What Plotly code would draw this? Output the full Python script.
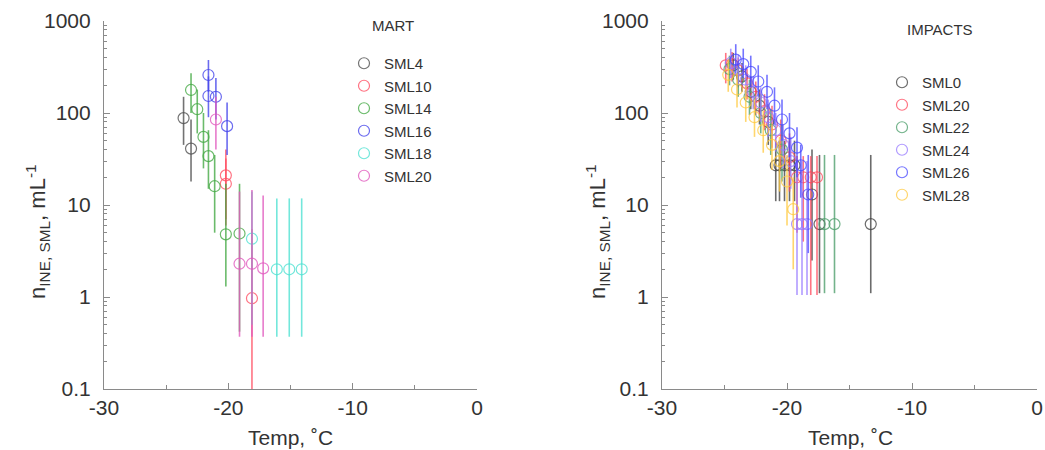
import plotly.graph_objects as go

# ---------------- MART (left panel) ----------------
mart_names = ["SML4", "SML10", "SML14", "SML16", "SML18", "SML20"]
mart_colors = ["rgba(80,80,80,0.8)", "rgba(255,80,100,0.8)", "rgba(70,170,70,0.8)",
               "rgba(70,70,235,0.8)", "rgba(80,225,210,0.8)", "rgba(225,90,190,0.8)"]

sml4_t = [-23.6, -23.0]
sml4_v = [88, 41]
sml4_up = [150, 85]
sml4_lo = [45, 18]

sml10_t = [-20.2, -20.2, -18.1]
sml10_v = [21, 17, 0.97]
sml10_up = [40, 32, 5.5]
sml10_lo = [7, 6, 0.03]

sml14_t = [-23.0, -22.5, -22.0, -21.6, -21.1, -20.2, -19.1]
sml14_v = [178, 110, 55, 34, 16, 4.8, 4.9]
sml14_up = [270, 180, 100, 65, 35, 17, 17]
sml14_lo = [100, 60, 25, 15, 5, 1.3, 0.42]

sml16_t = [-21.6, -21.6, -21.0, -20.1]
sml16_v = [259, 153, 150, 72]
sml16_up = [377, 250, 240, 130]
sml16_lo = [170, 90, 85, 35]

sml18_t = [-18.1, -16.1, -15.1, -14.1]
sml18_v = [4.3, 2.0, 2.0, 2.0]
sml18_up = [14, 11.8, 11.8, 11.8]
sml18_lo = [0.5, 0.37, 0.37, 0.37]

sml20m_t = [-21.0, -19.1, -18.1, -17.2]
sml20m_v = [85, 2.3, 2.3, 2.05]
sml20m_up = [150, 14, 14.6, 12.7]
sml20m_lo = [40, 0.37, 0.37, 0.37]

mart_data = [
    (sml4_t, sml4_v, sml4_up, sml4_lo),
    (sml10_t, sml10_v, sml10_up, sml10_lo),
    (sml14_t, sml14_v, sml14_up, sml14_lo),
    (sml16_t, sml16_v, sml16_up, sml16_lo),
    (sml18_t, sml18_v, sml18_up, sml18_lo),
    (sml20m_t, sml20m_v, sml20m_up, sml20m_lo),
]

# ---------------- IMPACTS (right panel) ----------------
imp_names = ["SML0", "SML20", "SML22", "SML24", "SML26", "SML28"]
imp_colors = ["rgba(70,70,70,0.8)", "rgba(255,70,90,0.75)", "rgba(80,160,110,0.8)",
              "rgba(150,120,255,0.75)", "rgba(70,70,255,0.75)", "rgba(255,200,60,0.75)"]

sml0_t = [-24.3, -23.6, -22.9, -22.2, -21.5, -20.9, -20.6, -20.2, -19.8, -19.4, -18.0, -17.4, -13.3]
sml0_v = [330, 250, 170, 120, 80, 27, 27, 27, 27, 27, 13, 6.2, 6.2]
sml0_up = [450, 350, 250, 180, 125, 50, 50, 50, 50, 50, 40, 35, 35]
sml0_lo = [230, 170, 110, 75, 45, 11, 11, 11, 11, 11, 2.5, 1.1, 1.1]

sml20_t = [-24.9, -24.4, -23.9, -23.2, -22.5, -21.8, -21.2, -20.5, -19.8, -19.2, -18.7, -18.1, -17.6]
sml20_v = [330, 340, 290, 210, 150, 105, 75, 50, 33, 20, 20, 20, 20]
sml20_up = [450, 460, 400, 300, 220, 160, 120, 85, 60, 34, 34, 34, 34]
sml20_lo = [210, 220, 190, 140, 95, 65, 42, 25, 14, 5, 4, 1.05, 1.05]

sml22_t = [-24.6, -23.9, -23.0, -22.1, -21.3, -20.4, -17.0, -16.2]
sml22_v = [300, 230, 150, 100, 65, 40, 6.2, 6.2]
sml22_up = [420, 330, 230, 160, 110, 75, 35, 35]
sml22_lo = [200, 150, 95, 60, 35, 18, 1.1, 1.1]

sml24_t = [-24.5, -23.9, -23.3, -22.7, -22.1, -21.5, -20.9, -20.3, -19.7, -19.2, -18.8, -18.4]
sml24_v = [350, 300, 230, 170, 130, 90, 65, 45, 30, 6.2, 6.2, 6.2]
sml24_up = [500, 430, 330, 250, 190, 140, 100, 75, 55, 30, 30, 30]
sml24_lo = [240, 200, 150, 110, 80, 55, 38, 25, 15, 1.05, 1.05, 1.05]

sml26_t = [-24.1, -23.5, -22.9, -22.3, -21.6, -21.0, -20.4, -19.8, -19.2, -18.9, -18.3]
sml26_v = [380, 340, 280, 220, 170, 120, 85, 60, 42, 27, 13]
sml26_up = [560, 500, 420, 330, 260, 190, 140, 100, 70, 45, 35]
sml26_lo = [270, 240, 190, 150, 110, 75, 50, 33, 20, 12, 3]

sml28_t = [-24.7, -24.0, -23.3, -22.6, -21.9, -21.2, -20.6, -20.0, -19.5]
sml28_v = [260, 180, 130, 90, 65, 45, 30, 18, 9]
sml28_up = [380, 270, 200, 140, 105, 75, 55, 35, 20]
sml28_lo = [170, 115, 80, 55, 37, 24, 14, 6, 2]

imp_data = [
    (sml0_t, sml0_v, sml0_up, sml0_lo),
    (sml20_t, sml20_v, sml20_up, sml20_lo),
    (sml22_t, sml22_v, sml22_up, sml22_lo),
    (sml24_t, sml24_v, sml24_up, sml24_lo),
    (sml26_t, sml26_v, sml26_up, sml26_lo),
    (sml28_t, sml28_v, sml28_up, sml28_lo),
]

x_ticks = [-30, -20, -10, 0]
x_ticktext = ["-30", "-20", "-10", "0"]
y_ticks = [0.1, 1, 10, 100, 1000]
y_ticktext = ["0.1", "1", "10", "100", "1000"]

FONT = "Liberation Sans, Arial, sans-serif"
W, H = 1045, 450

fig = go.Figure()


def add_series(data, names, colors, xa, ya, leg):
    for (t, v, up, lo), name, col in zip(data, names, colors):
        plus = [u - y for u, y in zip(up, v)]
        minus = [y - l for y, l in zip(v, lo)]
        fig.add_trace(go.Scatter(
            x=t, y=v, mode="markers", name=name, xaxis=xa, yaxis=ya, legend=leg,
            marker=dict(symbol="circle-open", size=11, color=col, line=dict(width=1.2, color=col)),
            error_y=dict(type="data", symmetric=False, array=plus, arrayminus=minus,
                         color=col, thickness=1.6, width=0),
        ))


add_series(mart_data, mart_names, mart_colors, "x", "y", "legend")
add_series(imp_data, imp_names, imp_colors, "x2", "y2", "legend2")

axis_common = dict(
    showline=True, linecolor="#8a8a8a", linewidth=1.2, mirror=False,
    showgrid=False, zeroline=False, ticks="inside", tickcolor="#8a8a8a",
    tickfont=dict(family=FONT, size=21, color="#333"), automargin=False,
)

xd1 = [104 / W, 477 / W]
xd2 = [662 / W, 1037 / W]
yd = [1 - 389 / H, 1 - 21 / H]

for xa, ya, dom in [("xaxis", "yaxis", xd1), ("xaxis2", "yaxis2", xd2)]:
    anchor_y = "y" if ya == "yaxis" else "y2"
    anchor_x = "x" if xa == "xaxis" else "x2"
    fig.layout[xa] = dict(axis_common, domain=dom, anchor=anchor_y, range=[-30, 0],
                          tickvals=x_ticks, ticktext=x_ticktext, ticklen=6, ticklabelstandoff=0,
                          minor=dict(dtick=5, tick0=0, ticks="inside", ticklen=4, tickcolor="#8a8a8a"))
    fig.layout[ya] = dict(axis_common, domain=yd, anchor=anchor_x, type="log", range=[-1, 3],
                          tickvals=y_ticks, ticktext=y_ticktext, ticklen=6, ticklabelstandoff=8,
                          minor=dict(dtick="D1", ticks="inside", ticklen=3, tickcolor="#8a8a8a"))

legend_common = dict(font=dict(family=FONT, size=15, color="#333"), bgcolor="rgba(0,0,0,0)",
                     xanchor="left", yanchor="top", tracegroupgap=0)

ytitle = "n<sub>INE, SML</sub>, mL<sup>-1</sup>"


def ann(text, x, y, size, angle=0):
    return dict(text=text, x=x / W, y=1 - y / H, xref="paper", yref="paper", showarrow=False,
                xanchor="center", yanchor="middle", textangle=angle,
                font=dict(family=FONT, size=size, color="#333"))


annotations = [
    ann("MART", 393, 25, 15),
    ann("IMPACTS", 940, 30, 15),
    ann(ytitle, 37, 232, 22, -90),
    ann(ytitle, 597, 232, 22, -90),
    ann("Temp, ˚C", 290, 437, 21),
    ann("Temp, ˚C", 850, 437, 21),
]

fig.update_layout(
    width=W, height=H, margin=dict(l=0, r=0, t=0, b=0),
    paper_bgcolor="white", plot_bgcolor="white",
    showlegend=True,
    legend=dict(legend_common, x=344 / W, y=1 - 47 / H),
    legend2=dict(legend_common, x=882 / W, y=1 - 66 / H),
    annotations=annotations,
)

fig.write_html("out.html")
